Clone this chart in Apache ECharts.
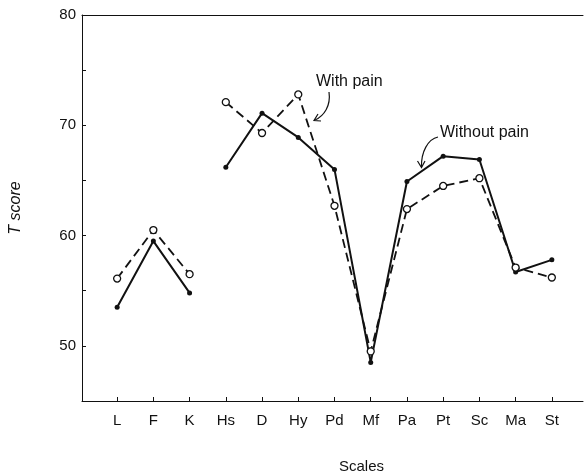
<!DOCTYPE html>
<html>
<head>
<meta charset="utf-8">
<script src="https://cdn.jsdelivr.net/npm/echarts@6/dist/echarts.min.js"></script>
<style>
  html, body { margin: 0; padding: 0; background: #fff; }
  #chart { width: 584px; height: 475px; }
</style>
</head>
<body>
<div id="chart"></div>
<script>
// MMPI 量表
var scales = ['L', 'F', 'K', 'Hs', 'D', 'Hy', 'Pd', 'Mf', 'Pa', 'Pt', 'Sc', 'Ma', 'St'];
var validityScales = ['L', 'F', 'K'];
var clinicalScales = ['Hs', 'D', 'Hy', 'Pd', 'Mf', 'Pa', 'Pt', 'Sc', 'Ma', 'St'];

var withoutPainValidity = [53.5, 59.5, 54.8];
var withoutPainClinical = [66.2, 71.1, 68.9, 66.0, 48.5, 64.9, 67.2, 66.9, 56.7, 57.8];
var withPainValidity = [56.1, 60.5, 56.5];
var withPainClinical = [72.1, 69.3, 72.8, 62.7, 49.5, 62.4, 64.5, 65.2, 57.1, 56.2];

var yTicks = [50, 60, 70, 80];

var ink = '#111';
var font = '"Liberation Sans", Arial, sans-serif';

function pairs(names, values) {
    return names.map(function (n, i) {
        return [scales.indexOf(n), values[i]];
    });
}

var solid = {
    type: 'line',
    symbol: 'circle',
    symbolSize: 5,
    itemStyle: { color: ink },
    lineStyle: { color: ink, width: 2 },
    z: 3
};
var dashed = {
    type: 'line',
    symbol: 'circle',
    symbolSize: 7,
    itemStyle: { color: '#fff', borderColor: ink, borderWidth: 1.3 },
    lineStyle: { color: ink, width: 1.8, type: [9, 5] },
    z: 4
};

var chart = echarts.init(document.getElementById('chart'));
var option = {
    backgroundColor: '#fff',
    animation: false,
    grid: { left: 82, right: 1, top: 15, bottom: 74, outerBoundsMode: 'none', containLabel: false },
    xAxis: [
        {
            type: 'value',
            min: -0.97,
            max: 12.86,
            name: 'Scales',
            nameLocation: 'middle',
            nameGap: 58,
            nameTextStyle: { fontFamily: font, fontSize: 15, color: ink, padding: [0, 0, 0, 58] },
            axisLine: { show: true, onZero: false, lineStyle: { color: ink, width: 1 } },
            axisTick: {
                show: true, inside: true, length: 4,
                customValues: scales.map(function (s, i) { return i; }),
                lineStyle: { color: ink }
            },
            axisLabel: {
                customValues: scales.map(function (s, i) { return i; }),
                formatter: function (v) { return scales[Math.round(v)]; },
                fontFamily: font, fontSize: 15, color: ink, margin: 12
            },
            splitLine: { show: false }
        },
        {
            type: 'value',
            position: 'top',
            min: -0.97,
            max: 12.86,
            axisLine: { show: true, onZero: false, lineStyle: { color: ink, width: 1 } },
            axisTick: { show: false },
            axisLabel: { show: false },
            splitLine: { show: false }
        }
    ],
    yAxis: {
        type: 'value',
        min: 45,
        max: 80,
        interval: 5,
        name: 'T score',
        nameLocation: 'middle',
        nameGap: 58,
        nameTextStyle: { fontFamily: font, fontSize: 16, fontStyle: 'italic', color: ink },
        axisLine: { show: true, onZero: false, lineStyle: { color: ink, width: 1 } },
        axisTick: { show: true, inside: true, length: 4, lineStyle: { color: ink } },
        axisLabel: {
            formatter: function (v) { return yTicks.indexOf(v) >= 0 ? String(v) : ''; },
            fontFamily: font, fontSize: 15, color: ink, margin: 6
        },
        splitLine: { show: false }
    },
    series: [
        Object.assign({ name: 'Without pain', data: pairs(validityScales, withoutPainValidity) }, solid),
        Object.assign({ name: 'Without pain', data: pairs(clinicalScales, withoutPainClinical) }, solid),
        Object.assign({ name: 'With pain', data: pairs(validityScales, withPainValidity) }, dashed),
        Object.assign({ name: 'With pain', data: pairs(clinicalScales, withPainClinical) }, dashed)
    ],
    graphic: [
        {
            type: 'text', left: 316, top: 74,
            style: { text: 'With pain', font: '16px ' + font, fill: ink }
        },
        {
            type: 'bezierCurve',
            shape: { x1: 329, y1: 92, cpx1: 331, cpy1: 106, cpx2: 324, cpy2: 116, x2: 315, y2: 120 },
            style: { stroke: ink, lineWidth: 1.2, fill: null }
        },
        {
            type: 'polyline',
            shape: { points: [[318, 114], [314, 120.5], [321, 121]] },
            style: { stroke: ink, lineWidth: 1.2, fill: null }
        },
        {
            type: 'text', left: 440, top: 125,
            style: { text: 'Without pain', font: '16px ' + font, fill: ink }
        },
        {
            type: 'bezierCurve',
            shape: { x1: 438, y1: 137, cpx1: 428, cpy1: 139, cpx2: 421, cpy2: 152, x2: 421.5, y2: 167 },
            style: { stroke: ink, lineWidth: 1.2, fill: null }
        },
        {
            type: 'polyline',
            shape: { points: [[417.5, 161], [421.5, 167.5], [425, 161]] },
            style: { stroke: ink, lineWidth: 1.2, fill: null }
        }
    ]
};
chart.setOption(option);
</script>
</body>
</html>
